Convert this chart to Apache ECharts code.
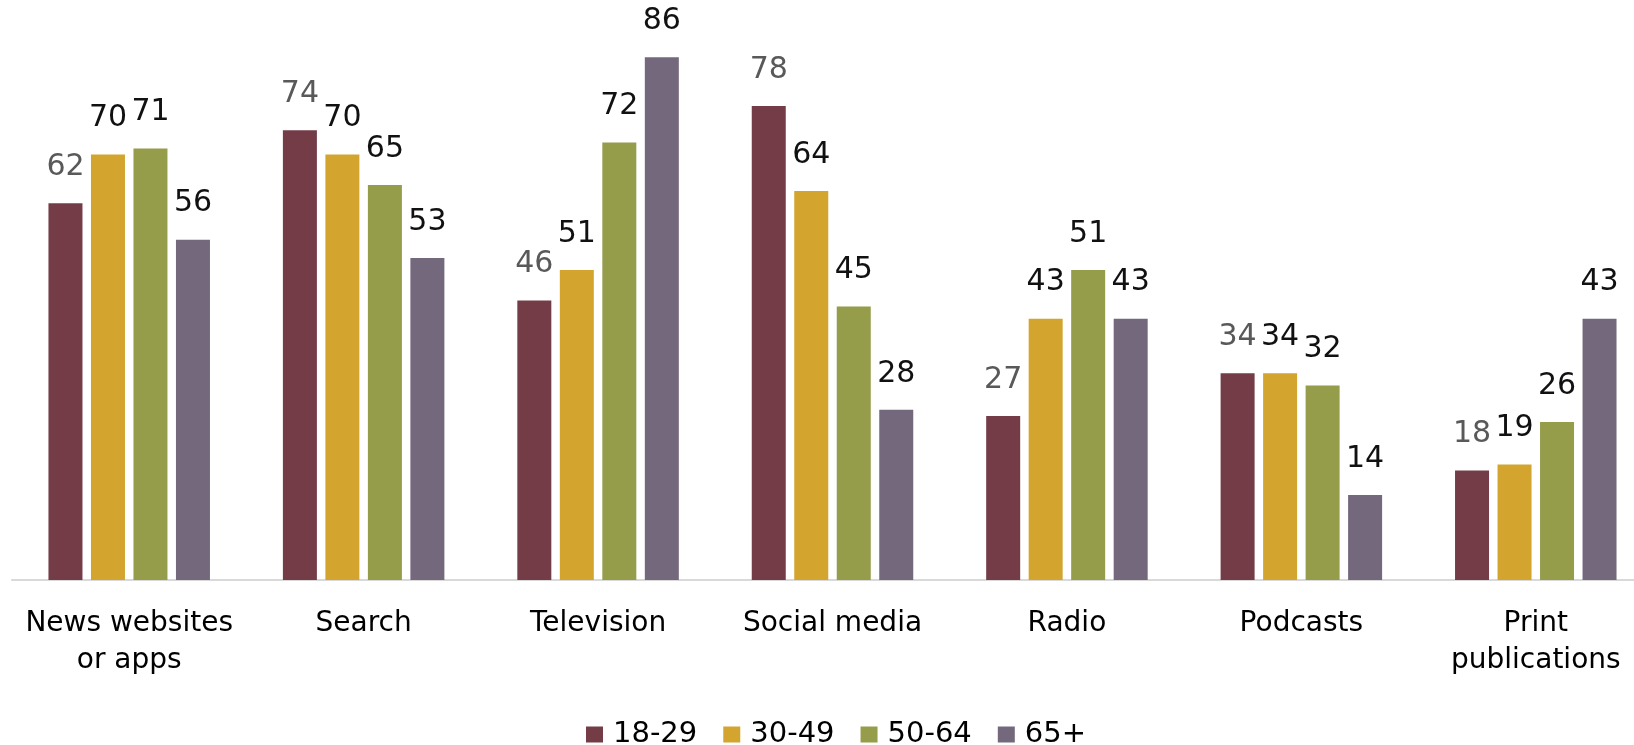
<!DOCTYPE html>
<html>
<head>
<meta charset="utf-8">
<script src="https://cdn.jsdelivr.net/npm/echarts@6/dist/echarts.min.js"></script>
<style>
  html, body { margin: 0; padding: 0; background: #fff; overflow: hidden; }
  /* the canvas is a little wider than the window so the last category can run off the edge */
  #chart { width: 1660px; height: 745px; }
</style>
</head>
<body>
<div id="chart"></div>
<script>
// Where people get news, share by age group (%)
const categories = ['News websites\nor apps', 'Search', 'Television', 'Social media', 'Radio', 'Podcasts', 'Print\npublications'];
const ageGroups = ['18-29', '30-49', '50-64', '65+'];
const age18to29 = [62, 74, 46, 78, 27, 34, 18];
const age30to49 = [70, 70, 51, 64, 43, 34, 19];
const age50to64 = [71, 65, 72, 45, 51, 32, 26];
const age65plus = [56, 53, 86, 28, 43, 14, 43];

const seriesValues = [age18to29, age30to49, age50to64, age65plus];
const colors = ['#733c47', '#d3a52f', '#959c4a', '#74697c'];
const labelColors = ['#595959', '#111111', '#111111', '#111111'];

const chart = echarts.init(document.getElementById('chart'));
chart.setOption({
  animation: false,
  textStyle: { fontFamily: 'DejaVu Sans, Verdana, sans-serif' },
  legend: {
    data: ageGroups,
    top: 720,
    left: 586,
    padding: 0,
    itemWidth: 17,
    itemHeight: 16,
    itemGap: 26,
    icon: 'rect',
    textStyle: { fontSize: 29, color: '#000', padding: [0, 0, 0, 5] }
  },
  grid: { left: 12, width: 1641, top: 33, bottom: 165, containLabel: false },
  xAxis: {
    type: 'category',
    data: categories,
    axisLine: { lineStyle: { color: '#d9d9d9', width: 2 } },
    axisTick: { show: false },
    axisLabel: { color: '#000', fontSize: 28, lineHeight: 37, margin: 25, interval: 0 }
  },
  yAxis: {
    type: 'value',
    min: 0,
    max: 90,
    show: false,
    splitLine: { show: false }
  },
  series: seriesValues.map((vals, i) => ({
    name: ageGroups[i],
    type: 'bar',
    data: vals,
    barWidth: 34,
    barGap: '25%',
    itemStyle: { color: colors[i] },
    label: {
      show: true,
      position: 'top',
      distance: 21,
      fontSize: 30,
      color: labelColors[i]
    }
  }))
});
</script>
</body>
</html>
